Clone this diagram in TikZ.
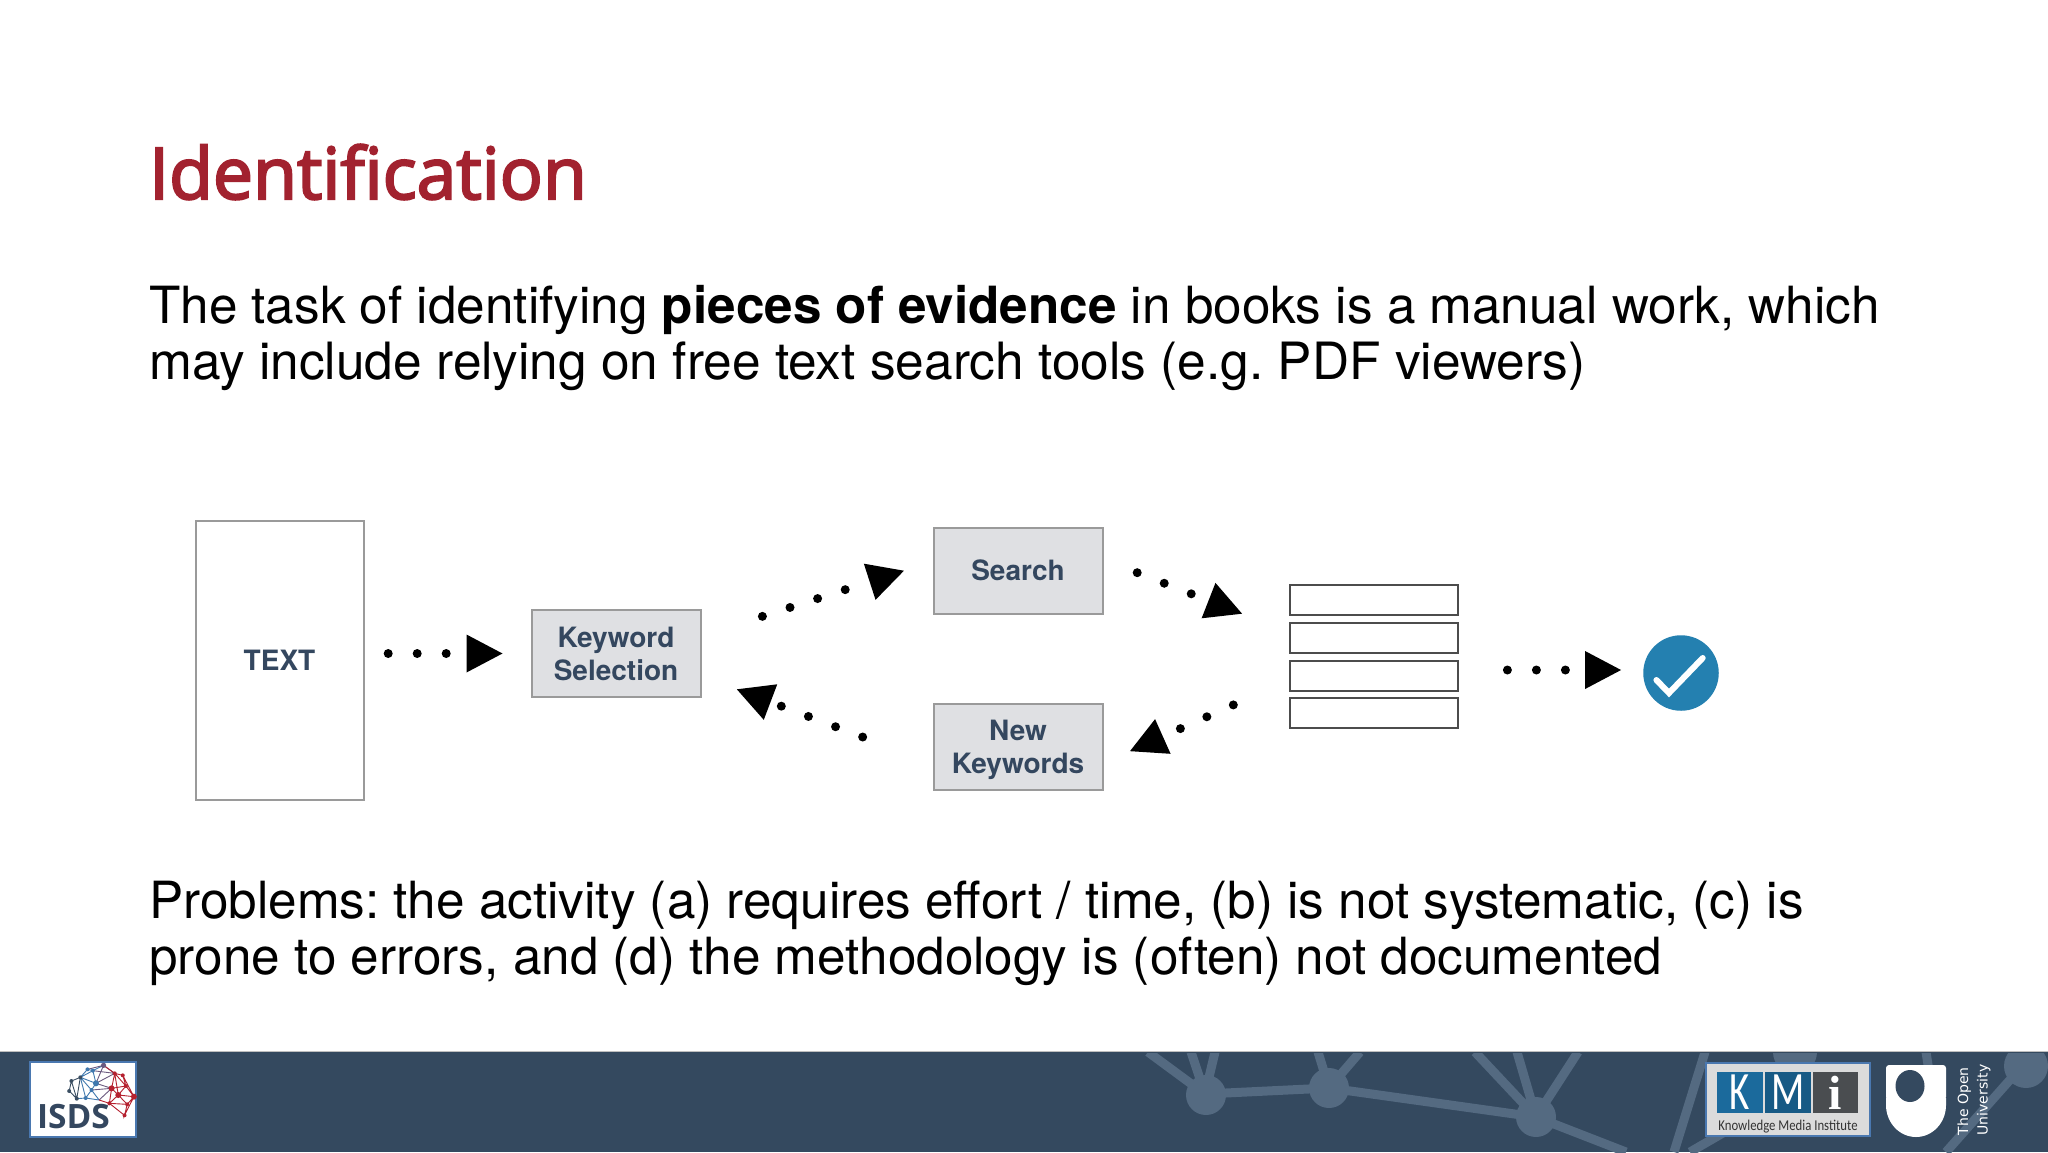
\documentclass[tikz,border=0pt]{standalone}
\usepackage{fontspec}
\usetikzlibrary{arrows.meta,calc}
\setmainfont{TeX Gyre Heros}
\newfontfamily\titlefont[FakeBold=3]{Open Sans}
\newfontfamily\logofont{Open Sans}
\newfontfamily\oufont{DejaVu Sans}
\newfontfamily\kmifont[FakeStretch=0.85]{Carlito}
\newfontfamily\kmibig[FakeStretch=0.72]{Carlito}
\newfontfamily\serifx{Liberation Serif}
\definecolor{bandc}{HTML}{34495F}
\definecolor{netc}{HTML}{546A81}
\definecolor{titlec}{HTML}{A2222F}
\definecolor{labelc}{HTML}{34475F}
\definecolor{boxc}{HTML}{DFE0E3}
\definecolor{boxb}{HTML}{9A9A9A}
\definecolor{chkc}{HTML}{2480B0}
\definecolor{logob}{HTML}{4A78B0}
\definecolor{kmib}{HTML}{1B6A9C}
\definecolor{kmig}{HTML}{4A4D50}
\definecolor{netblue}{HTML}{3F78AE}
\definecolor{netred}{HTML}{B5212F}
\definecolor{netmid}{HTML}{6B5A80}
\definecolor{netdark}{HTML}{3A4E62}
\tikzset{
  bodytext/.style={anchor=base west,inner sep=0pt,font=\frenchspacing\fontsize{51.25}{56}\selectfont,text=black},
  graybox/.style={draw=boxb,line width=2pt,fill=boxc,minimum width=169pt,inner sep=0pt,align=center,text=labelc,font=\fontsize{28}{33}\selectfont\bfseries},
  rowbox/.style={draw=black!70,line width=2pt,fill=white,minimum width=168pt,minimum height=30pt,inner sep=0pt},
  dotconn/.style={line width=9pt,line cap=round,dash pattern=on 0pt off 29pt,-{Triangle[length=36pt,width=38pt,line width=0pt]}},
  netline/.style={netc,line width=9pt},
  netdot/.style={fill=netc},
  le/.style={line width=0.9pt},
}
\begin{document}
\begin{tikzpicture}[x=1pt,y=-1pt]
\useasboundingbox (0,0) rectangle (2048,1152);
\fill[white] (0,0) rectangle (2048,1152);
% footer band
\fill[bandc] (0,1052) rectangle (2048,1152);
\draw[black!25,line width=1pt] (0,1051.5) -- (2048,1051.5);
\begin{scope}
\clip (0,1053) rectangle (2048,1152);
\draw[netline] (1148,1052) -- (1205,1094) (1191,1052) -- (1205,1094) (1215,1052) -- (1205,1094);
\draw[netline] (1318,1052) -- (1329,1088) (1360,1052) -- (1329,1088);
\draw[netline] (1475,1052) -- (1536,1117) (1517,1052) -- (1536,1117) (1578,1052) -- (1536,1117) (1536,1117) -- (1626,1152);
\draw[netline] (1205,1094) -- (1329,1088) -- (1536,1117);
\draw[netline] (1705,1052) -- (1674,1152) (1690,1152) -- (1780,1100);
\draw[netline] (1926,1052) -- (1935,1110) (2024,1064) -- (1946,1152);
\fill[netdot] (1206,1095) circle (20pt) (1329,1088) circle (20pt) (1536,1117) circle (20pt) (1795,1052) circle (22pt) (2026,1066) circle (22pt);
\end{scope}
% title and text
\node[anchor=base west,inner sep=0pt,text=titlec,font=\fontsize{71.5}{80}\selectfont\titlefont] (title) at (149,199) {Identification};
\node[bodytext] (l1) at (149,323) {The task of identifying \textbf{pieces of evidence} in books is a manual work, which};
\node[bodytext,font=\frenchspacing\fontsize{51.4}{56}\selectfont] (l2) at (149,379) {may include relying on free text search tools (e.g. PDF viewers)};
\node[bodytext] (l3) at (149,918) {Problems: the activity (a) requires effort / time, (b) is not systematic, (c) is};
\node[bodytext] (l4) at (149,974) {prone to errors, and (d) the methodology is (often) not documented};
% diagram
\node[graybox,fill=white,minimum width=168pt,minimum height=279pt] (txt) at (279.5,660) {TEXT};
\node[graybox,minimum height=87pt] (kw) at (616,653.5) {Keyword\\Selection};
\node[graybox,minimum height=86pt] (search) at (1018,570.5) {Search};
\node[graybox,minimum height=86pt] (newkw) at (1018,747) {\rule{0pt}{26pt}New\\Keywords};
\node[rowbox] (r1) at (1374,600) {};
\node[rowbox] (r2) at (1374,637.75) {};
\node[rowbox] (r3) at (1374,675.5) {};
\node[rowbox] (r4) at (1374,713.25) {};
\node[circle,fill=chkc,minimum size=75.5pt,inner sep=0pt] (chk) at (1681,673) {};
\draw[white,line width=6pt,line cap=round,line join=miter] ([shift={(-24.6,7)}]chk.center) -- ([shift={(-12,20)}]chk.center) -- ([shift={(21.7,-15)}]chk.center);
% dotted connectors
\draw[dotconn,shorten <=23.7pt,shorten >=28pt] ($(txt.east|-kw.east)$) -- (kw.west);
\draw[dotconn,shorten <=64pt,shorten >=30pt] ([yshift=17.5pt]kw.east) -- ([yshift=9pt]search.west);
\draw[dotconn,shorten <=36.2pt,shorten >=50.4pt] ([yshift=11pt]search.east) -- ([yshift=5.7pt]r2.west);
\draw[dotconn,shorten <=61pt,shorten >=29pt] ([yshift=-4.5pt]r3.west) -- ([yshift=-16pt]newkw.east);
\draw[dotconn,shorten <=74.7pt,shorten >=37.8pt] ([yshift=-16.5pt]newkw.west) -- ([yshift=-22.4pt]kw.east);
\draw[dotconn,shorten <=48.4pt,shorten >=22pt] ([yshift=5.5pt]r3.east) -- ([yshift=3pt]chk.west);
% ISDS logo
\node[draw=logob,line width=2pt,fill=white,minimum width=106pt,minimum height=75pt,inner sep=0pt] (isdsbox) at (83,1099) {};
\node[anchor=base,inner sep=0pt,text=labelc,font=\fontsize{33.5}{33}\selectfont\logofont\bfseries] (isds) at (73.5,1128) {ISDS};
\begin{scope}[shift={(0,1040)},x=0.4464pt,y=-0.3333pt]
\foreach \n/\px/\py in {a/155/153,b/160/123,c/180/112,d/196/88,e/208/92,f/232/76,g/257/100,h/275/106,i/215/130,j/172/176,k/192/174,m/205/150,n/250/145,o/282/138,p/265/165,q/300/170,s/245/190,t/285/193,u/279/226,v/222/180}
  \coordinate (\n) at (\px,\py);
\draw[le,netdark] (a)--(b)--(c) (a)--(j) (b)--(j) (c)--(j);
\draw[le,netblue] (c)--(d)--(e)--(c) (c)--(i) (c)--(k) (c)--(m) (j)--(k)--(m)--(i)--(e) (k)--(v) (m)--(v) (e)--(f);
\draw[le,netmid] (d)--(f) (i)--(f) (i)--(g) (e)--(g) (f)--(g) (i)--(n) (m)--(n) (v)--(n);
\draw[le,netred] (g)--(h)--(o)--(g) (g)--(n)--(o)--(p)--(n) (g)--(p) (h)--(q)--(o) (o)--(q)--(p) (n)--(s) (v)--(s)--(p)--(t)--(q)--(u)--(t)--(s)--(u) (p)--(q) (f)--(g);
\foreach \n in {a,b,j,c}{\fill[netdark] (\n) circle (2pt);}
\foreach \n in {d,e,k,m}{\fill[netblue] (\n) circle (2pt);}
\fill[netblue] (i) circle (3pt);
\fill[netmid] (f) circle (2.6pt);
\foreach \n in {g,h,o,s,t,u}{\fill[netred] (\n) circle (2pt);}
\foreach \n in {n,p,q}{\fill[netred] (\n) circle (3pt);}
\end{scope}
% KMI logo
\node[draw=logob,line width=2pt,fill=black!14,minimum width=164pt,minimum height=73pt,inner sep=0pt] (kmibox) at (1788,1099.5) {};
\node[fill=kmib,minimum width=46pt,minimum height=41pt,inner sep=0pt,text=white,font=\fontsize{54}{54}\selectfont\kmibig] (kmik) at (1740,1092.5) {K};
\node[fill=kmib!85!black,minimum width=46pt,minimum height=41pt,inner sep=0pt,text=white,font=\fontsize{54}{54}\selectfont\kmibig] (kmim) at (1788,1092.5) {M};
\node[fill=kmig,minimum width=45pt,minimum height=41pt,inner sep=0pt,text=white,font=\fontsize{48}{48}\selectfont\serifx\bfseries] (kmii) at (1835.5,1092.5) {i};
\node[inner sep=0pt,text=black!80,font=\fontsize{15}{16}\selectfont\kmifont] (kmit) at (1788,1127) {Knowledge Media Institute};
% OU logo
\fill[white,rounded corners=3pt] (1886,1065) -- (1946,1065) -- (1946,1100) -- (1886,1100) -- cycle;
\fill[white] (1946,1098) -- (1946,1105) arc[start angle=0,end angle=-180,x radius=30pt,y radius=32pt] -- (1886,1098) -- cycle;
\fill[bandc] (1910,1086) ellipse[x radius=14.5pt,y radius=16pt];
\node[rotate=90,inner sep=0pt,align=left,text=white,font=\fontsize{14}{19.5}\selectfont\oufont] (ou) at (1974,1100) {The Open\\University};
\end{tikzpicture}
\end{document}
